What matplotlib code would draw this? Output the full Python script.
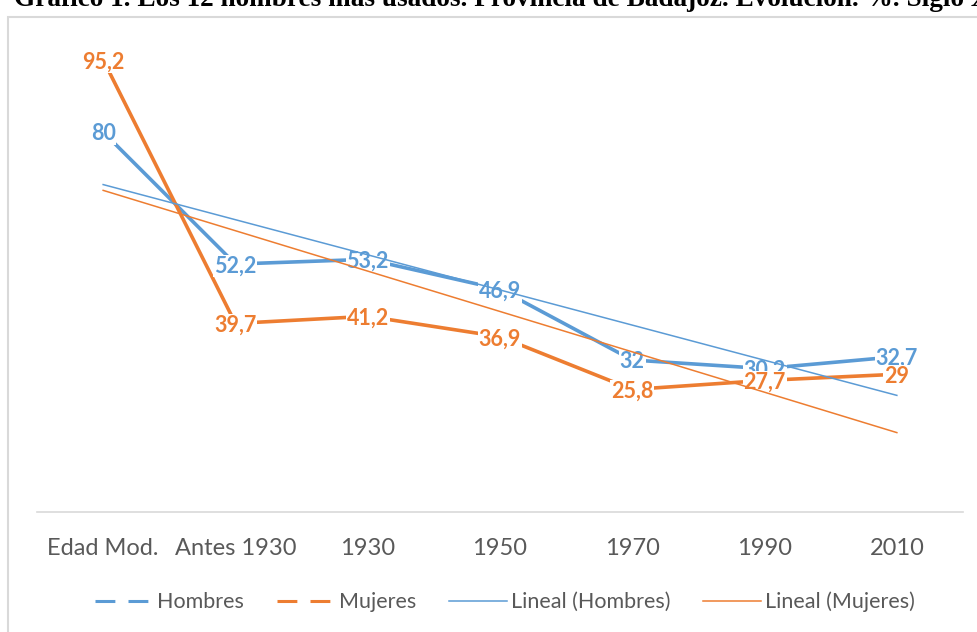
import numpy as np
import matplotlib
matplotlib.use("Agg")
import matplotlib.pyplot as plt
from matplotlib.lines import Line2D
from matplotlib.patches import Rectangle

categorias = ["Edad Mod.", "Antes 1930", "1930", "1950", "1970", "1990", "2010"]
hombres = [80, 52.2, 53.2, 46.9, 32, 30.2, 32.7]
mujeres = [95.2, 39.7, 41.2, 36.9, 25.8, 27.7, 29]

azul = "#5B9BD5"
naranja = "#ED7D31"
gris = "#595959"

fig = plt.figure(figsize=(9.77, 6.32), dpi=100)
ax = fig.add_axes([37 / 977, 1 - 512 / 632, 926 / 977, 475 / 632])

# marco del grafico
fig.patches.append(Rectangle((8 / 977, -0.1), 1.2, 1 - 17 / 632 + 0.1,
                             transform=fig.transFigure, fill=False,
                             edgecolor="#D9D9D9", lw=1.5, zorder=0))

fig.text(14 / 977, 1 - 6 / 632,
         "Gráfico 1. Los 12 nombres más usados. Provincia de Badajoz. Evolución. %. Siglo XX",
         family="Liberation Serif", weight="bold", fontsize=19.6, va="baseline", ha="left")

x = np.arange(1, len(categorias) + 1)

ax.plot(x, hombres, color=azul, lw=2.6, zorder=2, solid_capstyle="butt")
ax.plot(x, mujeres, color=naranja, lw=2.6, zorder=2, solid_capstyle="butt")

# lineas de tendencia
for serie, color in ((hombres, azul), (mujeres, naranja)):
    m, b = np.polyfit(x, serie, 1)
    ax.plot(x, m * x + b, color=color, lw=1.1, zorder=4)

for serie, color in ((hombres, azul), (mujeres, naranja)):
    for xi, v in zip(x, serie):
        ax.text(xi, v, f"{v:g}".replace(".", ","), color=color, family="Lato",
                weight="bold", fontsize=15.5, ha="center", va="center_baseline", zorder=3,
                bbox=dict(facecolor="white", edgecolor="none", pad=0.6))

ax.set_xlim(0.5, len(categorias) + 0.5)
ax.set_ylim(0, 100)
ax.set_xticks(x)
ax.set_xticklabels(categorias, family="Lato", fontsize=17, color=gris)
ax.set_yticks([])
ax.tick_params(axis="x", length=0, pad=19)
for lado in ("top", "left", "right"):
    ax.spines[lado].set_visible(False)
ax.spines["bottom"].set_color("#D9D9D9")
ax.spines["bottom"].set_linewidth(1.2)

handles = [
    Line2D([], [], color=azul, lw=2.2, linestyle=(0, (6.5, 4.3))),
    Line2D([], [], color=naranja, lw=2.2, linestyle=(0, (6.5, 4.3))),
    Line2D([], [], color=azul, lw=1.1),
    Line2D([], [], color=naranja, lw=1.1),
]
nombres = ["Hombres", "Mujeres", "Lineal (Hombres)", "Lineal (Mujeres)"]
leg = fig.legend(handles, nombres, loc="center", bbox_to_anchor=(505 / 977, 1 - 602 / 632),
                 ncol=4, frameon=False, handlelength=2.7, handletextpad=0.2,
                 columnspacing=1.5, prop={"family": "Lato", "size": 15.5})
for t in leg.get_texts():
    t.set_color(gris)

fig.savefig("out.png", dpi=100)
